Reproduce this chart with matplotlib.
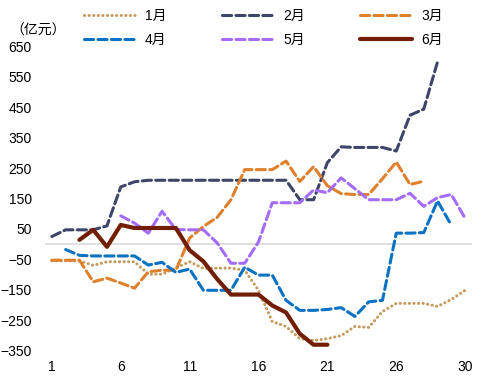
import numpy as np
import matplotlib
matplotlib.use("Agg")
import matplotlib.pyplot as plt

plt.rcParams['font.family'] = ['Liberation Sans', 'Noto Sans CJK SC', 'DejaVu Sans']
plt.rcParams['font.size'] = 10

nan = np.nan
days = list(range(1, 32))
xtick_pos = [1, 6, 11, 16, 21, 26, 31]
xtick_labels = ['1', '6', '11', '16', '21', '26', '30']
yticks = [-350, -250, -150, -50, 50, 150, 250, 350, 450, 550, 650]

m1 = [-55, -55, -55, -70, -58, -58, -58, -99, -99, -78, -58, -80, -79, -79, -86, -152,
      -255, -271, -311, -317, -311, -301, -271, -274, -222, -195, -195, -195, -205, -182, -152]
m2 = [25, 47, 47, 47, 60, 188, 205, 210, 210, 210, 210, 210, 210, 210, 210, 210, 210, 210,
      146, 146, 268, 320, 318, 318, 318, 306, 424, 444, 600, nan, nan]
m3 = [-53, -53, -53, -124, -112, -128, -145, -91, -86, -86, 20, 58, 88, 146, 245, 245, 245,
      273, 206, 255, 192, 166, 163, 163, 215, 270, 196, 207, nan, nan, nan]
m4 = [nan, -18, -37, -39, -39, -39, -39, -69, -60, -93, -82, -152, -152, -152, -76, -102, -102,
      -185, -218, -218, -215, -209, -238, -190, -185, 36, 36, 38, 142, 62, nan]
m5 = [nan, nan, nan, nan, nan, 93, 69, 36, 108, 48, 47, 47, 4, -63, -63, 7, 136, 136, 136,
      178, 169, 218, 182, 146, 146, 146, 167, 124, 153, 163, 85]
m6 = [nan, nan, 14, 47, -9, 63, 53, 53, 53, 53, -20, -57, -115, -166, -166, -166, -202, -225,
      -295, -331, -331, nan, nan, nan, nan, nan, nan, nan, nan, nan, nan]

names = ['1月', '2月', '3月', '4月', '5月', '6月']
colors = ['#C59A5E', '#3D4568', '#DE802C', '#0A72C2', '#A46CFA', '#721E02']

fig = plt.figure(figsize=(4.85, 3.79), dpi=100)
ax = fig.add_axes([45/485, 1 - 350.5/379, 427/485, 304/379])
ax.set_xlim(0.5, 31.5)
ax.set_ylim(-350, 650)

ax.axhline(0, color='#D9D9D9', lw=1.2, zorder=1)

series = [m1, m2, m3, m4, m5, m6]
handles = {}
for i, (vals, name, c) in enumerate(zip(series, names, colors)):
    v = np.array(vals, dtype=float)
    if i == 0:
        ln, = ax.plot(days, v, color=c, lw=2.2, linestyle=(0, (0.05, 1.45)),
                      dash_capstyle='round', label=name, zorder=3)
    elif i == 5:
        ln, = ax.plot(days, v, color=c, lw=3.0, solid_capstyle='round',
                      solid_joinstyle='round', label=name, zorder=5)
    else:
        ln, = ax.plot(days, v, color=c, lw=2.2, linestyle=(0, (3.0, 1.4)),
                      dash_capstyle='round', label=name, zorder=3)
    handles[name] = ln

for s in ax.spines.values():
    s.set_visible(False)
ax.set_xticks(xtick_pos)
ax.set_xticklabels(xtick_labels)
ax.set_yticks(yticks)
ax.tick_params(axis='both', length=0, labelsize=10, colors='black')
ax.tick_params(axis='y', pad=9.5)
ax.tick_params(axis='x', pad=7)

order = ['1月', '4月', '2月', '5月', '3月', '6月']
fig.legend([handles[n] for n in order], order, loc='center',
           bbox_to_anchor=(0.543, 1 - 28/379), ncol=3, frameon=False,
           handlelength=3.7, handletextpad=0.7, columnspacing=4.0,
           labelspacing=0.75, borderpad=0, fontsize=10)

fig.text(10/485, 1 - 31/379, '（亿元）', ha='left', va='center', fontsize=10)

fig.savefig('out.png', dpi=100)
